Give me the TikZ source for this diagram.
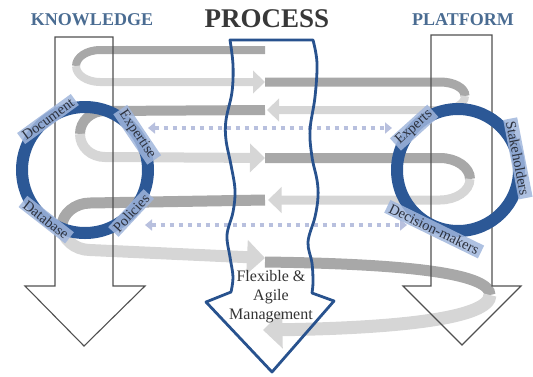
\documentclass[tikz,border=0pt]{standalone}
\usepackage{fontspec}
\setmainfont{Liberation Serif}
\usetikzlibrary{arrows.meta,positioning}
\tikzset{
  backband/.style={draw=bandback, line width=9pt},
  frontband/.style={draw=bandfront, line width=9pt, -{Triangle[width=0pt 2.8, length=0pt 1.5]}},
  dotlink/.style={draw=dotblue, line width=4pt, dash pattern=on 4pt off 5pt,
    {Triangle[width=11pt,length=7pt]}-{Triangle[width=11pt,length=7pt]}},
  ringline/.style={circle, draw=ringblue, line width=12pt, outer sep=0pt, minimum size=#1},
  ringtag/.style={fill=tagblue, fill opacity=0.85, text opacity=1, text=tagtext,
    inner xsep=3pt, inner ysep=2pt, font=\fontsize{14.5}{14.5}\selectfont},
  pillar/.style={draw=pillargray, line width=1.1pt},
  procline/.style={draw=procblue, line width=2.8pt, line join=round},
  headline/.style={font=\fontsize{18}{18}\selectfont\bfseries, text=titleblue},
}

\begin{document}
\begin{tikzpicture}[x=1pt, y=-1pt]
    % Define colors
    \definecolor{bandback}{RGB}{168,168,168}
    \definecolor{bandfront}{RGB}{214,214,214}
    \definecolor{dotblue}{RGB}{184,192,222}
    \definecolor{ringblue}{RGB}{44,88,150}
    \definecolor{tagblue}{RGB}{160,182,220}
    \definecolor{tagtext}{RGB}{45,50,62}
    \definecolor{pillargray}{RGB}{80,80,80}
    \definecolor{procblue}{RGB}{40,82,142}
    \definecolor{titleblue}{RGB}{74,108,146}

    \useasboundingbox (0,0) rectangle (533,376);

    % Spiral: back runs leave the middle, front runs come back with a head
    \draw[backband, line width=8pt] (265,50) -- (100,50) .. controls (87,50) and (76,57) .. (76,66);
    \draw[frontband, line width=8pt] (76,66) .. controls (76,75) and (87,82) .. (100,82) -- (265,82);
    \draw[backband, line width=9pt] (265,82) -- (440,82) .. controls (454,82) and (465,88) .. (465,96);
    \draw[frontband, line width=8pt] (465,96) .. controls (465,104) and (454,110) .. (440,110) -- (267,110);
    \draw[backband, line width=10pt] (265,110) -- (105,111) .. controls (91,111) and (80,121) .. (80,134);
    \draw[frontband, line width=10pt] (80,134) .. controls (80,147) and (91,157) .. (105,157) -- (265,158);
    \draw[backband, line width=10pt] (265,158) -- (440,158) .. controls (456,158) and (470,167) .. (470,179);
    \draw[frontband, line width=9pt] (470,179) .. controls (470,191) and (456,200) .. (440,200) -- (268,200);
    \draw[backband, line width=11pt] (265,200) -- (90,203) .. controls (75,203) and (62,214) .. (62,226);
    \draw[frontband, line width=12pt] (62,226) .. controls (62,239) and (75,250) .. (90,250) -- (265,258);
    \draw[backband, line width=11pt] (265,262) .. controls (420,264) and (490,275) .. (490,295);
    \draw[frontband, line width=13pt] (490,295) .. controls (490,318) and (400,328) .. (263,330);

    % Side pillars
    \draw[pillar] (55,37) -- (113,37) -- (113,286) -- (145,286) -- (84,346)
      -- (25,286) -- (55,286) -- cycle;
    \draw[pillar] (431,35) -- (492,35) -- (492,286) -- (521,286) -- (462,345)
      -- (403,286) -- (431,286) -- cycle;

    % Dotted links between the rings
    \coordinate (linkA) at (148,128);
    \coordinate (linkB) at (392,128);
    \coordinate (linkC) at (145,225);
    \coordinate (linkD) at (407,225);
    \draw[dotlink] (linkA) -- (linkB);
    \draw[dotlink] (linkC) -- (linkD);

    % Rings
    \node[ringline=126pt] (lring) at (85,170) {};
    \node[ringline=122pt] (rring) at (458,170) {};

    \node[ringtag, rotate=36] (doc) at (lring.126) {Document};
    \node[ringtag, rotate=-56] (expertise) at (lring.34) {Expertise};
    \node[ringtag, rotate=-38] (dbase) at (lring.232) {Database};
    \node[ringtag, rotate=47] (policies) at (lring.-43) {Policies};

    \node[ringtag, rotate=42] (experts) at (rring.136) {Experts};
    \node[ringtag, rotate=-79] (stake) at (rring.11) {Stakeholders};
    \node[ringtag, rotate=-26] (decision) at ([yshift=-3pt]rring.247) {Decision-makers};

    % Process arrow with wavy sides
    \draw[procline] (230,40) -- (313,40)
      -- plot[smooth, tension=0.6] coordinates {(313,40) (317,63) (315,97) (310,130)
         (312,157) (317,180) (318,197) (315,217) (308,242) (312,263) (313,282) (312,293)}
      -- (334,301) -- (272,372) -- (206,302) -- (231,292)
      -- plot[smooth, tension=0.6] coordinates {(231,292) (233,277) (230,257) (227,235)
         (233,212) (235,190) (231,165) (226,140) (226,120) (232,92) (233,65) (230,40)}
      -- cycle;

    \node[text=black!80, align=center, font=\fontsize{16}{19}\selectfont] (mgmt) at (271,297)
      {Flexible \&\\Agile\\Management};

    % Titles
    \node[headline] (know) at (92,20) {KNOWLEDGE};
    \node[font=\fontsize{27}{27}\selectfont\bfseries, text=black!78] (proc) at (267,19) {PROCESS};
    \node[headline] (plat) at (463,20) {PLATFORM};
  \end{tikzpicture}
\end{document}
